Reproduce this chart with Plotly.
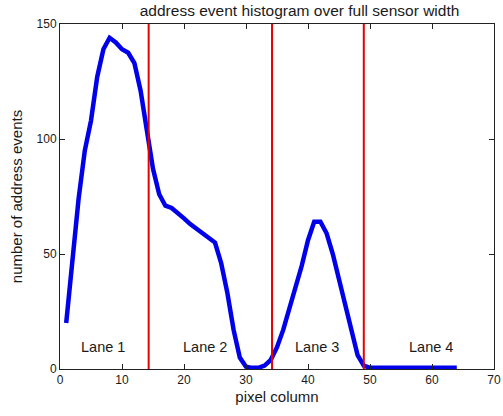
import plotly.graph_objects as go

# Data
pixel_column = list(range(1, 65))
events = [20, 47, 74, 95, 108, 127, 139, 144, 142, 139,
          137.5, 133, 121, 104, 87, 76, 71, 70, 68, 65.5,
          63, 61, 59, 57, 55, 46, 33, 17, 5, 1,
          0.5, 0.5, 1.5, 4, 9.5, 17, 26, 36, 45, 56,
          64, 64, 59, 50, 39, 27, 15, 6, 1.5, 0.5,
          0.5, 0.5, 0.5, 0.5, 0.5, 0.5, 0.5, 0.5, 0.5, 0.5,
          0.5, 0.5, 0.5, 0.5]
lane_bounds = [14.3, 34.2, 49.0]
lane_names = ["Lane 1", "Lane 2", "Lane 3", "Lane 4"]
lane_label_x = [6.9, 23.4, 41.5, 59.8]
lane_label_y = 9.5
x_ticks = [0, 10, 20, 30, 40, 50, 60, 70]
y_ticks = [0, 50, 100, 150]

FONT = "Liberation Sans, Arial, sans-serif"
TXT = "#1a1a1a"

fig = go.Figure()
fig.add_trace(go.Scatter(x=pixel_column, y=events, mode="lines",
                         line=dict(color="rgb(0,0,235)", width=4.5),
                         showlegend=False, hoverinfo="skip"))

for xb in lane_bounds:
    fig.add_shape(type="line", xref="x", yref="y", x0=xb, x1=xb, y0=0, y1=150,
                  line=dict(color="rgb(230,0,0)", width=2))

for name, lx in zip(lane_names, lane_label_x):
    fig.add_annotation(x=lx, y=lane_label_y, xref="x", yref="y", text=name,
                       showarrow=False, font=dict(family=FONT, size=14.5, color=TXT))

axis_common = dict(showline=True, linecolor="#222", linewidth=1, mirror="ticks",
                   ticks="inside", ticklen=5, tickcolor="#222", showgrid=False,
                   zeroline=False, tickfont=dict(family=FONT, size=12, color=TXT))

fig.update_xaxes(range=[0, 70], tickvals=x_ticks,
                 title=dict(text="pixel column", font=dict(family=FONT, size=15, color=TXT), standoff=5),
                 **axis_common)
fig.update_yaxes(range=[0, 150], tickvals=y_ticks,
                 title=dict(text="number of address events", font=dict(family=FONT, size=15, color=TXT), standoff=10),
                 **axis_common)

fig.update_layout(
    width=503, height=416,
    margin=dict(l=60, r=9, t=24, b=47, autoexpand=False),
    paper_bgcolor="white", plot_bgcolor="white",
    title=dict(text="address event histogram over full sensor width",
               font=dict(family=FONT, size=15.5, color=TXT),
               x=0.552, xanchor="center", y=1 - 11 / 416, yanchor="middle",
               xref="paper", yref="container"),
    font=dict(family=FONT),
)
fig.write_html("out.html")
